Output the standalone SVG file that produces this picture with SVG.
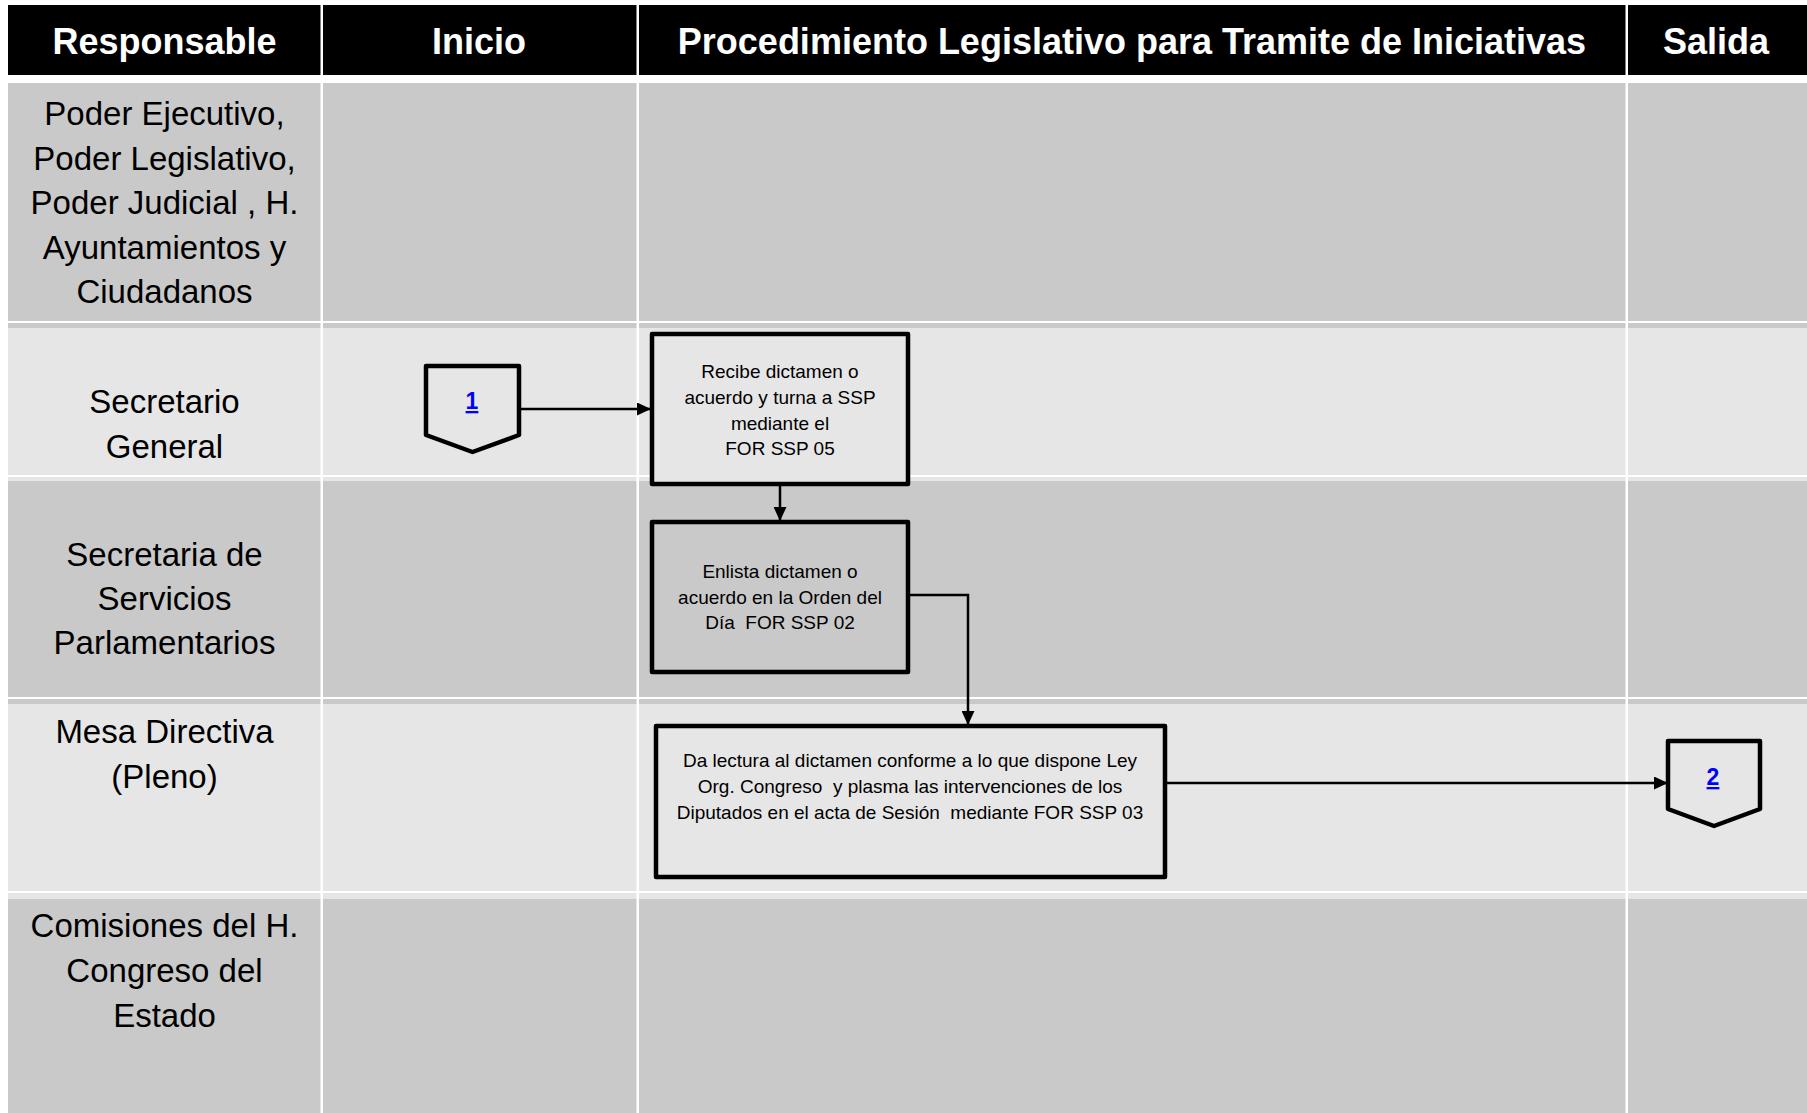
<svg xmlns="http://www.w3.org/2000/svg" width="1807" height="1113" viewBox="0 0 1807 1113">
<style>
.hdr{font-family:"Liberation Sans",Arial,sans-serif;font-weight:bold;font-size:36px;fill:#fff;text-anchor:middle}
.lbl{font-family:"Liberation Sans",Arial,sans-serif;font-size:33px;fill:#000;text-anchor:middle}
.box{stroke:#000;stroke-width:4.5;stroke-linejoin:round}
.bt{font-family:"Liberation Sans",Arial,sans-serif;font-size:19px;fill:#000;text-anchor:middle;white-space:pre}
.lnk{font-family:"Liberation Sans",Arial,sans-serif;font-weight:bold;font-size:23px;fill:#0000ff;text-anchor:middle;text-decoration:underline}
.edge{fill:none;stroke:#000;stroke-width:2.5}
.dark{fill:#c9c9c9}
.light{fill:#e6e6e6}
</style>
<defs>
<marker id="arr" viewBox="0 0 14 13" refX="14" refY="6.5" markerWidth="14" markerHeight="13" markerUnits="userSpaceOnUse" orient="auto">
<path d="M0,0 L14,6.5 L0,13 z" fill="#000"/>
</marker>
</defs>
<rect x="0" y="0" width="1807" height="1113" fill="#fff"/>
<g id="lanes">
<rect x="8" y="5" width="1799" height="70" fill="#000"/>
<rect class="dark" x="8" y="83" width="1799" height="238"/>
<rect class="light" x="8" y="323" width="1799" height="152"/>
<rect class="dark" x="8" y="323" width="1799" height="5"/>
<rect class="dark" x="8" y="477" width="1799" height="220"/>
<rect class="light" x="8" y="477" width="1799" height="4"/>
<rect class="light" x="8" y="699" width="1799" height="192"/>
<rect class="dark" x="8" y="699" width="1799" height="5"/>
<rect class="dark" x="8" y="893" width="1799" height="220"/>
<rect class="light" x="8" y="893" width="1799" height="6"/>
<rect x="320.5" y="0" width="2.5" height="1113" fill="#fff"/>
<rect x="636.5" y="0" width="2.5" height="1113" fill="#fff"/>
<rect x="1625.5" y="0" width="2.5" height="1113" fill="#fff"/>
</g>
<g id="headers">
<text class="hdr" x="164.5" y="54">Responsable</text>
<text class="hdr" x="479" y="54">Inicio</text>
<text class="hdr" x="1132" y="54">Procedimiento Legislativo para Tramite de Iniciativas</text>
<text class="hdr" x="1716" y="54">Salida</text>
</g>
<g id="lane-labels">
<text class="lbl" x="164.5"><tspan x="164.5" y="125">Poder Ejecutivo,</tspan><tspan x="164.5" y="169.5">Poder Legislativo,</tspan><tspan x="164.5" y="214">Poder Judicial , H.</tspan><tspan x="164.5" y="258.5">Ayuntamientos y</tspan><tspan x="164.5" y="303">Ciudadanos</tspan></text>
<text class="lbl" x="164.5"><tspan x="164.5" y="413">Secretario</tspan><tspan x="164.5" y="458">General</tspan></text>
<text class="lbl" x="164.5"><tspan x="164.5" y="566">Secretaria de</tspan><tspan x="164.5" y="610">Servicios</tspan><tspan x="164.5" y="654">Parlamentarios</tspan></text>
<text class="lbl" x="164.5"><tspan x="164.5" y="743">Mesa Directiva</tspan><tspan x="164.5" y="788">(Pleno)</tspan></text>
<text class="lbl" x="164.5"><tspan x="164.5" y="937">Comisiones del H.</tspan><tspan x="164.5" y="982">Congreso del</tspan><tspan x="164.5" y="1027">Estado</tspan></text>
</g>
<g id="connectors">
<line class="edge" x1="519" y1="409" x2="651" y2="409" marker-end="url(#arr)"/>
<line class="edge" x1="780" y1="485" x2="780" y2="521" marker-end="url(#arr)"/>
<path class="edge" d="M908,595 H968 V725" marker-end="url(#arr)"/>
<line class="edge" x1="1165" y1="783" x2="1668" y2="783" marker-end="url(#arr)"/>
</g>
<g id="node-start-1">
<polygon class="box light" points="426,366 519,366 519,435 472.5,452 426,435"/>
<text class="lnk" x="472" y="409">1</text>
</g>
<g id="node-recibe">
<rect class="box light" x="652" y="334" width="256" height="150"/>
<text class="bt"><tspan x="780" y="378">Recibe dictamen o</tspan><tspan x="780" y="404">acuerdo y turna a SSP</tspan><tspan x="780" y="429.5">mediante el</tspan><tspan x="780" y="455">FOR SSP 05</tspan></text>
</g>
<g id="node-enlista">
<rect class="box dark" x="652" y="522" width="256" height="150"/>
<text class="bt"><tspan x="780" y="578">Enlista dictamen o</tspan><tspan x="780" y="603.5">acuerdo en la Orden del</tspan><tspan x="780" y="629">Día  FOR SSP 02</tspan></text>
</g>
<g id="node-lectura">
<rect class="box light" x="656" y="726" width="509" height="151"/>
<text class="bt"><tspan x="910" y="767">Da lectura al dictamen conforme a lo que dispone Ley</tspan><tspan x="910" y="793">Org. Congreso  y plasma las intervenciones de los</tspan><tspan x="910" y="819">Diputados en el acta de Sesión  mediante FOR SSP 03</tspan></text>
</g>
<g id="node-end-2">
<polygon class="box light" points="1668,741 1760,741 1760,809 1714,826 1668,809"/>
<text class="lnk" x="1713" y="785">2</text>
</g>
</svg>
